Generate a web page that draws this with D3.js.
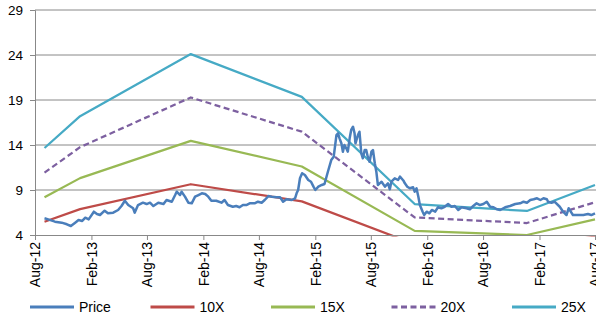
<!DOCTYPE html>
<html>
<head>
<meta charset="utf-8">
<script src="https://cdn.jsdelivr.net/npm/d3@7/dist/d3.min.js"></script>
<style>
  html, body { margin: 0; padding: 0; background: #fff; }
  svg { display: block; }
  text { font-family: "Liberation Sans", Arial, sans-serif; fill: #000; }
</style>
</head>
<body>
<svg id="chart" width="596" height="320"></svg>
<script>
// Share price history (date, price)
const priceSeries = [
  ["2012-09-01",5.86],["2012-09-13",5.74],["2012-10-05",5.48],["2012-10-27",5.37],["2012-11-13",5.19],
  ["2012-11-26",5.00],["2012-12-10",5.37],["2012-12-21",5.67],["2013-01-02",5.56],["2013-01-12",5.92],
  ["2013-01-23",5.74],["2013-02-09",6.59],["2013-02-19",6.33],["2013-03-01",6.22],["2013-03-16",6.70],
  ["2013-03-27",6.41],["2013-04-13",6.48],["2013-04-29",6.78],["2013-05-10",7.22],["2013-05-21",7.81],
  ["2013-06-01",7.33],["2013-06-17",6.97],["2013-06-22",6.48],["2013-07-03",7.33],["2013-07-19",7.59],
  ["2013-07-31",7.44],["2013-08-11",7.59],["2013-08-22",7.22],["2013-09-07",7.59],["2013-09-24",7.44],
  ["2013-10-04",7.89],["2013-10-21",7.70],["2013-11-01",8.44],["2013-11-06",8.81],["2013-11-17",8.44],
  ["2013-11-22",8.81],["2013-12-03",8.26],["2013-12-14",7.59],["2013-12-25",7.52],["2014-01-05",8.26],
  ["2014-01-16",8.44],["2014-01-27",8.63],["2014-02-07",8.56],["2014-02-17",8.26],["2014-02-27",7.81],
  ["2014-03-15",7.81],["2014-04-01",7.59],["2014-04-11",7.89],["2014-04-22",7.33],["2014-05-08",7.14],
  ["2014-05-19",7.22],["2014-05-30",7.08],["2014-06-10",7.33],["2014-06-21",7.33],["2014-07-02",7.52],
  ["2014-07-18",7.52],["2014-07-29",7.70],["2014-08-10",7.59],["2014-08-20",7.89],["2014-09-01",8.33],
  ["2014-09-12",8.26],["2014-09-28",8.19],["2014-10-09",8.19],["2014-10-19",7.70],["2014-10-30",7.97],
  ["2014-11-16",7.89],["2014-11-27",8.08],["2014-12-02",8.63],["2014-12-07",9.00],["2014-12-13",10.30],
  ["2014-12-20",10.86],["2014-12-29",10.67],["2015-01-09",10.11],["2015-01-18",9.92],["2015-01-26",9.37],
  ["2015-02-01",9.00],["2015-02-11",9.37],["2015-02-22",9.56],["2015-03-03",9.67],["2015-03-14",11.03],
  ["2015-03-25",12.33],["2015-04-02",12.70],["2015-04-11",15.11],["2015-04-16",15.30],["2015-04-21",14.74],
  ["2015-04-27",14.19],["2015-05-02",13.26],["2015-05-07",14.00],["2015-05-13",13.63],["2015-05-18",13.26],
  ["2015-05-24",14.74],["2015-05-29",15.67],["2015-06-04",16.03],["2015-06-09",15.30],["2015-06-12",14.19],
  ["2015-06-20",15.11],["2015-06-25",15.48],["2015-07-01",13.08],["2015-07-06",12.52],["2015-07-12",13.44],
  ["2015-07-17",13.44],["2015-07-22",12.70],["2015-07-28",12.14],["2015-08-03",13.26],["2015-08-08",13.44],
  ["2015-08-14",11.97],["2015-08-19",11.03],["2015-08-24",9.56],["2015-08-30",9.74],["2015-09-05",9.92],
  ["2015-09-16",9.37],["2015-09-26",9.74],["2015-10-02",9.08],["2015-10-07",9.92],["2015-10-18",10.30],
  ["2015-10-29",10.11],["2015-11-04",10.48],["2015-11-15",10.06],["2015-11-20",9.74],["2015-11-28",9.37],
  ["2015-12-06",9.19],["2015-12-17",9.30],["2015-12-22",8.81],["2015-12-28",9.19],["2016-01-03",8.26],
  ["2016-01-08",7.33],["2016-01-17",6.59],["2016-01-22",6.22],["2016-01-30",6.59],["2016-02-08",6.41],
  ["2016-02-16",6.78],["2016-02-27",6.59],["2016-03-07",7.08],["2016-03-18",6.97],["2016-03-29",7.14],
  ["2016-04-09",7.44],["2016-04-20",7.14],["2016-05-01",7.22],["2016-05-12",6.78],["2016-05-23",7.08],
  ["2016-06-08",6.97],["2016-06-19",6.86],["2016-06-30",7.22],["2016-07-11",7.52],["2016-07-22",7.33],
  ["2016-08-02",7.44],["2016-08-13",7.70],["2016-08-24",7.14],["2016-09-04",7.08],["2016-09-15",6.86],
  ["2016-09-26",6.78],["2016-10-12",7.08],["2016-10-28",7.22],["2016-11-14",7.44],["2016-11-30",7.52],
  ["2016-12-11",7.70],["2016-12-22",7.59],["2017-01-02",7.89],["2017-01-13",7.97],["2017-01-24",8.08],
  ["2017-02-04",7.89],["2017-02-14",8.08],["2017-02-25",7.97],["2017-03-01",7.70],["2017-03-12",7.59],
  ["2017-03-22",7.70],["2017-04-08",7.14],["2017-04-19",6.59],["2017-04-30",6.22],["2017-05-07",6.97],
  ["2017-05-14",6.59],["2017-05-21",6.22],["2017-06-07",6.22],["2017-06-24",6.22],["2017-07-09",6.33],
  ["2017-07-20",6.22],["2017-08-01",6.41]
];

// Dates of the earnings-multiple bands
const bandDates = ["2012-09-01","2012-12-26","2013-12-22","2014-12-19","2015-12-22","2016-12-22","2017-08-01"];
const band10x = [5.47, 6.88, 9.64, 7.74, 2.98, 2.67, 3.82];
const band15x = [8.20, 10.32, 14.46, 11.61, 4.46, 4.00, 5.73];
const band20x = [10.93, 13.76, 19.28, 15.48, 5.95, 5.33, 7.64];
const band25x = [13.67, 17.20, 24.10, 19.35, 7.44, 6.67, 9.55];

const xTickLabels = ["Aug-12","Feb-13","Aug-13","Feb-14","Aug-14","Feb-15","Aug-15","Feb-16","Aug-16","Feb-17","Aug-17"];
const yTicks = [4, 9, 14, 19, 24, 29];

const parseDate = d3.timeParse("%Y-%m-%d");
const parseTick = d3.timeParse("%b-%y");

const series = [
  { name: "Price", color: "#4a7ebb", width: 2.5, dash: null,
    points: priceSeries.map(d => ({ date: parseDate(d[0]), value: d[1] })) },
  { name: "10X", color: "#be4b48", width: 2.25, dash: null,
    points: bandDates.map((d, i) => ({ date: parseDate(d), value: band10x[i] })) },
  { name: "15X", color: "#98b954", width: 2.25, dash: null,
    points: bandDates.map((d, i) => ({ date: parseDate(d), value: band15x[i] })) },
  { name: "20X", color: "#7d60a0", width: 2.25, dash: "6,3.5",
    points: bandDates.map((d, i) => ({ date: parseDate(d), value: band20x[i] })) },
  { name: "25X", color: "#46aac5", width: 2.25, dash: null,
    points: bandDates.map((d, i) => ({ date: parseDate(d), value: band25x[i] })) }
];

const plot = { left: 35, right: 595, top: 10, bottom: 235 };

const svg = d3.select("#chart");

const x = d3.scaleTime()
  .domain([parseTick("Aug-12"), parseTick("Aug-17")])
  .range([plot.left, plot.right]);

const y = d3.scaleLinear()
  .domain([4, 29])
  .range([plot.bottom, plot.top]);

// Horizontal gridlines
svg.append("g")
  .selectAll("line")
  .data(yTicks.filter(t => t > 4))
  .join("line")
  .attr("x1", plot.left).attr("x2", 596)
  .attr("y1", d => y(d)).attr("y2", d => y(d))
  .attr("stroke", "#888").attr("stroke-width", 1);

// Y axis
const yAxis = svg.append("g")
  .attr("transform", `translate(${plot.left},0)`)
  .call(d3.axisLeft(y).tickValues(yTicks).tickSize(5).tickPadding(7).tickFormat(d3.format("d")));
yAxis.select(".domain").attr("stroke", "#888");
yAxis.selectAll(".tick line").attr("stroke", "#888");
yAxis.selectAll("text").attr("font-size", 13.5).attr("font-family", "Liberation Sans, Arial, sans-serif").attr("fill", "#000");

// Data lines, clipped to the plotting area
svg.append("defs").append("clipPath").attr("id", "plotClip")
  .append("rect")
  .attr("x", plot.left).attr("y", 0)
  .attr("width", 596 - plot.left).attr("height", plot.bottom + 1.5);

const line = d3.line().x(d => x(d.date)).y(d => y(d.value));

const lines = svg.append("g").attr("clip-path", "url(#plotClip)");
// Draw bands first, price on top
[1, 2, 3, 4, 0].forEach(i => {
  const s = series[i];
  lines.append("path")
    .datum(s.points)
    .attr("fill", "none")
    .attr("stroke", s.color)
    .attr("stroke-width", s.width)
    .attr("stroke-linejoin", "round")
    .attr("stroke-dasharray", s.dash)
    .attr("d", line);
});

// X axis
const xAxis = svg.append("g")
  .attr("transform", `translate(0,${plot.bottom})`)
  .call(d3.axisBottom(x)
    .tickValues(xTickLabels.map(parseTick))
    .tickSize(5)
    .tickFormat(d3.timeFormat("%b-%y")));
xAxis.select(".domain").attr("stroke", "#888");
xAxis.selectAll(".tick line").attr("stroke", "#888");
xAxis.selectAll("text")
  .attr("font-size", 14)
  .attr("font-family", "Liberation Sans, Arial, sans-serif")
  .attr("fill", "#000")
  .attr("text-anchor", "end")
  .attr("transform", "rotate(-90)")
  .attr("x", -7)
  .attr("y", 0)
  .attr("dy", "0.35em");

// Legend
const legend = svg.append("g").attr("transform", "translate(30,307)");
const legendStep = 120.5;
series.forEach((s, i) => {
  const g = legend.append("g").attr("transform", `translate(${i * legendStep},0)`);
  g.append("line")
    .attr("x1", 0).attr("x2", 44)
    .attr("y1", 0).attr("y2", 0)
    .attr("stroke", s.color)
    .attr("stroke-width", 3)
    .attr("stroke-dasharray", s.dash);
  g.append("text")
    .attr("x", 49).attr("y", 0)
    .attr("dy", "0.35em")
    .attr("font-size", 14)
    .text(s.name);
});
</script>
</body>
</html>
